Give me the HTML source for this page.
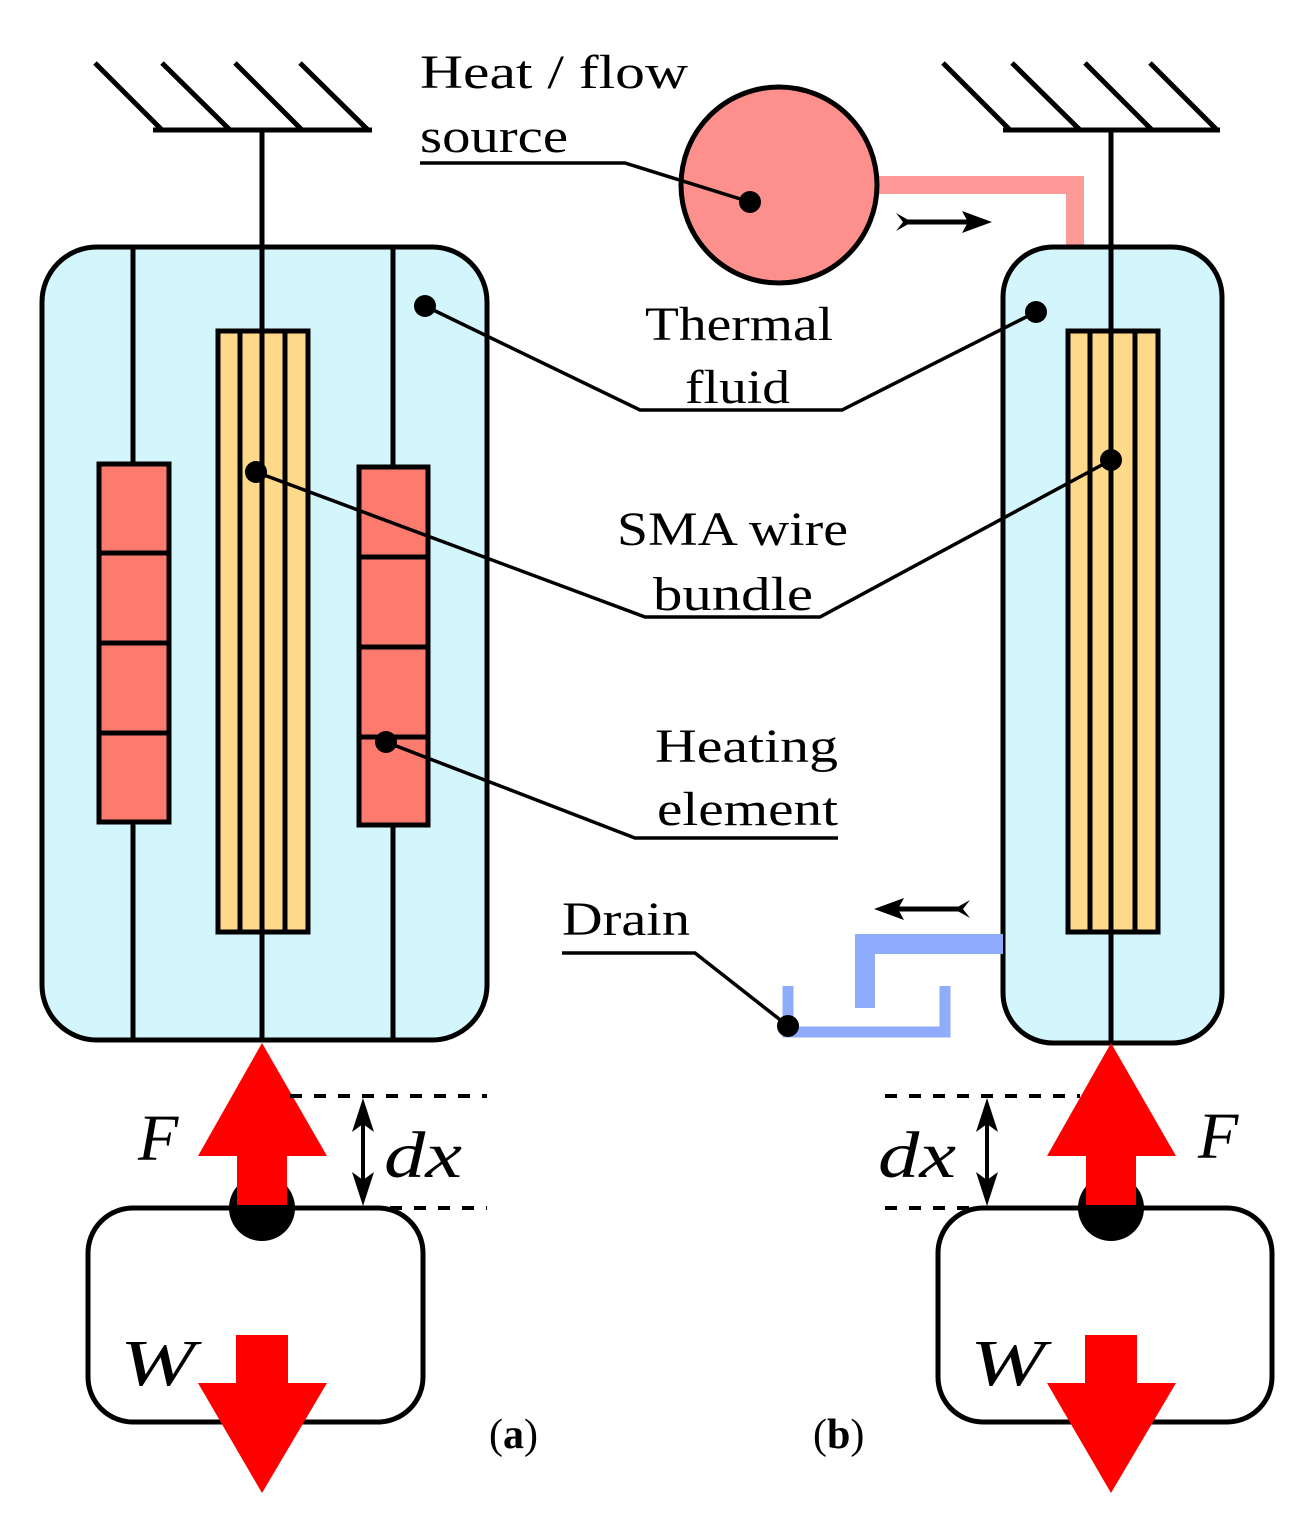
<!DOCTYPE html>
<html><head><style>body{margin:0;background:#fff}svg{display:block}text{font-family:"Liberation Serif",serif;fill:#000}</style></head><body>
<svg width="1300" height="1529" viewBox="0 0 1300 1529" xmlns="http://www.w3.org/2000/svg">
<g stroke="#000" stroke-width="5" fill="none">
<line x1="153" y1="130" x2="372" y2="130"/>
<line x1="95" y1="63" x2="162" y2="130"/><line x1="162" y1="63" x2="230" y2="130"/><line x1="235" y1="63" x2="302" y2="130"/><line x1="300" y1="63" x2="368" y2="130"/>
<line x1="1003" y1="130" x2="1220" y2="130"/>
<line x1="943" y1="63" x2="1010" y2="130"/><line x1="1012" y1="63" x2="1080" y2="130"/><line x1="1085" y1="63" x2="1152" y2="130"/><line x1="1150" y1="63" x2="1217" y2="130"/>
</g>
<path d="M870,185 H1075 V250" stroke="#fd9a98" stroke-width="18" fill="none"/>
<circle cx="779" cy="185" r="98" fill="#fd8f8c" stroke="#000" stroke-width="5"/>
<path d="M905,222 H975" stroke="#000" stroke-width="5"/>
<path d="M992,222 L962,211 L968,222 L962,233z" fill="#000"/>
<path d="M896,213 L912,222 L896,231 L903,222z" fill="#000"/>
<rect x="42" y="247" width="445" height="793" rx="55" fill="#d3f5fc" stroke="#000" stroke-width="5"/>
<rect x="1003" y="247" width="219" height="796" rx="50" fill="#d3f5fc" stroke="#000" stroke-width="5"/>
<path d="M1003,944 H865 V1008" stroke="#8fabfc" stroke-width="20" fill="none"/>
<path d="M788,986 V1032 H945 V986" stroke="#8fabfc" stroke-width="11" fill="none"/>
<path d="M890,909 H962" stroke="#000" stroke-width="5"/>
<path d="M874,909 L904,898 L898,909 L904,920z" fill="#000"/>
<path d="M970,900 L954,909 L970,918 L963,909z" fill="#000"/>
<g stroke="#000" stroke-width="5">
<line x1="262" y1="130" x2="262" y2="1040"/>
<line x1="1111" y1="130" x2="1111" y2="1043"/>
<line x1="133" y1="247" x2="133" y2="1040"/>
<line x1="393" y1="247" x2="393" y2="1040"/>
</g>
<g stroke="#000" stroke-width="5">
<rect x="218" y="331" width="90" height="601" fill="#ffd98a"/>
<line x1="240" y1="331" x2="240" y2="932"/><line x1="262" y1="331" x2="262" y2="932"/><line x1="285" y1="331" x2="285" y2="932"/>
<rect x="1068" y="331" width="90" height="601" fill="#ffd98a"/>
<line x1="1090" y1="331" x2="1090" y2="932"/><line x1="1111" y1="331" x2="1111" y2="932"/><line x1="1135" y1="331" x2="1135" y2="932"/>
<rect x="99" y="464" width="70" height="358" fill="#fc7a6e"/>
<line x1="99" y1="553" x2="169" y2="553"/><line x1="99" y1="643" x2="169" y2="643"/><line x1="99" y1="733" x2="169" y2="733"/>
<rect x="359" y="467" width="69" height="358" fill="#fc7a6e"/>
<line x1="359" y1="557" x2="428" y2="557"/><line x1="359" y1="647" x2="428" y2="647"/><line x1="359" y1="737" x2="428" y2="737"/>
</g>
<g stroke="#000" stroke-width="3.5" fill="none">
<path d="M420,163 H625 L750,202"/>
<path d="M425,306 L640,410 H842 L1036,312"/>
<path d="M256,472 L645,617 H820 L1111,460"/>
<path d="M386,742 L635,838 H838"/>
<path d="M562,953 H695 L788,1026"/>
</g>
<g fill="#000">
<circle cx="750" cy="202" r="11"/><circle cx="425" cy="306" r="11"/><circle cx="1036" cy="312" r="11"/>
<circle cx="256" cy="472" r="11"/><circle cx="1111" cy="460" r="11"/><circle cx="386" cy="742" r="11"/><circle cx="788" cy="1026" r="11"/>
</g>
<g font-size="48">
<text x="420" y="88" textLength="268" lengthAdjust="spacingAndGlyphs">Heat / flow</text>
<text x="420" y="152" textLength="148" lengthAdjust="spacingAndGlyphs">source</text>
<text x="645" y="340" textLength="188" lengthAdjust="spacingAndGlyphs">Thermal</text>
<text x="685" y="403" textLength="105" lengthAdjust="spacingAndGlyphs">fluid</text>
<text x="617" y="545" textLength="231" lengthAdjust="spacingAndGlyphs">SMA wire</text>
<text x="653" y="610" textLength="160" lengthAdjust="spacingAndGlyphs">bundle</text>
<text x="655" y="762" textLength="183" lengthAdjust="spacingAndGlyphs">Heating</text>
<text x="657" y="825" textLength="181" lengthAdjust="spacingAndGlyphs">element</text>
<text x="562" y="935" textLength="128" lengthAdjust="spacingAndGlyphs">Drain</text>
</g>
<rect x="88" y="1208" width="335" height="214" rx="45" fill="#fff" stroke="#000" stroke-width="5"/>
<rect x="938" y="1208" width="334" height="214" rx="45" fill="#fff" stroke="#000" stroke-width="5"/>
<circle cx="262" cy="1208" r="33" fill="#000"/>
<circle cx="1111" cy="1208" r="33" fill="#000"/>
<path d="M262,1043 L327,1156 H287 V1205 H237 V1156 H198z" fill="#f00"/>
<path d="M1111,1043 L1176,1156 H1136 V1205 H1086 V1156 H1047z" fill="#f00"/>
<path d="M236,1335 H288 V1383 H327 L262,1493 L198,1383 H236z" fill="#f00"/>
<path d="M1085,1335 H1137 V1383 H1176 L1111,1493 L1047,1383 H1085z" fill="#f00"/>
<g stroke="#000" stroke-width="4" stroke-dasharray="12,12">
<line x1="290" y1="1096" x2="487" y2="1096"/><line x1="390" y1="1208" x2="487" y2="1208"/>
<line x1="885" y1="1096" x2="1080" y2="1096"/><line x1="885" y1="1208" x2="970" y2="1208"/>
</g>
<g stroke="#000" stroke-width="4">
<line x1="363" y1="1110" x2="363" y2="1195"/>
<line x1="987" y1="1110" x2="987" y2="1195"/>
</g>
<g fill="#000">
<path d="M363,1098 L352,1132 L363,1124 L374,1132z"/><path d="M363,1206 L352,1172 L363,1180 L374,1172z"/>
<path d="M987,1098 L976,1132 L987,1124 L998,1132z"/><path d="M987,1206 L976,1172 L987,1180 L998,1172z"/>
</g>
<g font-size="66" font-style="italic">
<text x="138" y="1160">F</text>
<text x="1198" y="1158">F</text>
<text x="384" y="1177" textLength="78" lengthAdjust="spacingAndGlyphs">dx</text>
<text x="878" y="1177" textLength="78" lengthAdjust="spacingAndGlyphs">dx</text>
<text x="120" y="1385" textLength="75" lengthAdjust="spacingAndGlyphs">W</text>
<text x="970" y="1385" textLength="75" lengthAdjust="spacingAndGlyphs">W</text>
</g>
<g font-size="42">
<text x="489" y="1448">(<tspan font-weight="bold">a</tspan>)</text>
<text x="813" y="1448">(<tspan font-weight="bold">b</tspan>)</text>
</g>
</svg>
</body></html>
